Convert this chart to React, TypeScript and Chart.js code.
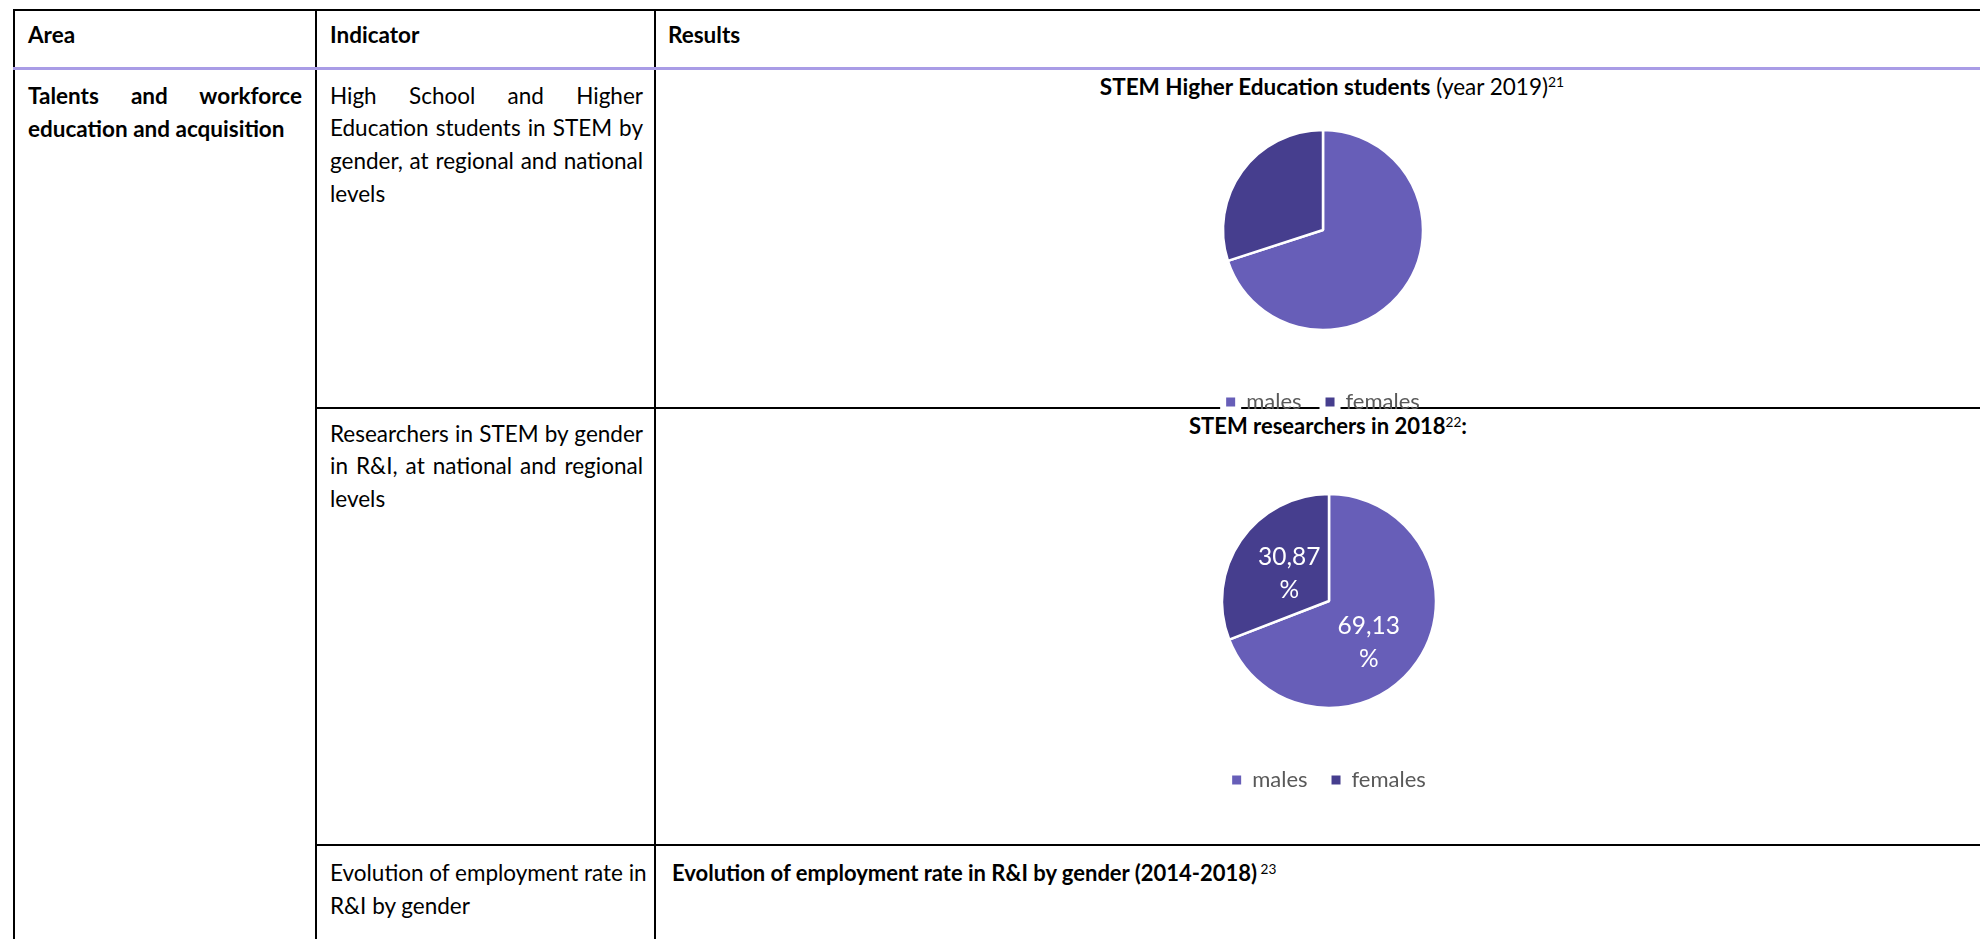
import React, { useEffect, useRef } from "react";
import { Chart, registerables } from "chart.js";

Chart.register(...registerables);

// ---------- data ----------
const GENDER_LABELS = ["males", "females"];
const STUDENTS_2019 = [70, 30];
const RESEARCHERS_2018 = [69.13, 30.87];
const SLICE_COLORS = ["#675EB8", "#463E8E"];
const LABEL_RADII = [0.54, 0.45];
const LABEL_ANGLE_SHIFT_DEG = [12, 0];

const FONT = "Lato, 'Open Sans', sans-serif";
const LEGEND_FONT_SIZE = 22;
const LEGEND_BOX = 9;

const sliceLabels = {
  id: "sliceLabels",
  afterDatasetsDraw(chart: any, _args: any, opts: any) {
    if (!opts || !opts.show) return;
    const meta = chart.getDatasetMeta(0);
    const data = chart.data.datasets[0].data as number[];
    const ctx = chart.ctx as CanvasRenderingContext2D;
    ctx.save();
    ctx.fillStyle = "#ffffff";
    ctx.font = `24.5px ${FONT}`;
    ctx.textAlign = "center";
    ctx.textBaseline = "middle";
    meta.data.forEach((arc: any, i: number) => {
      const p = arc.getProps(["x", "y", "startAngle", "endAngle", "outerRadius"], true);
      const mid = (p.startAngle + p.endAngle) / 2 + (LABEL_ANGLE_SHIFT_DEG[i] * Math.PI) / 180;
      const r = p.outerRadius * LABEL_RADII[i];
      const cx = p.x + Math.cos(mid) * r;
      const cy = p.y + Math.sin(mid) * r;
      const txt = data[i].toFixed(2).replace(".", ",");
      ctx.fillText(txt, cx, cy - 16.5);
      ctx.fillText("%", cx, cy + 16.5);
    });
    ctx.restore();
  },
};

// white halo around legend squares (knocks out the table rule under the first chart's legend)
const legendHalo = {
  id: "legendHalo",
  afterDraw(chart: any, _args: any, opts: any) {
    if (!opts || !opts.show || !chart.legend) return;
    const ctx = chart.ctx as CanvasRenderingContext2D;
    ctx.save();
    (chart.legend.legendHitBoxes || []).forEach((hb: any, i: number) => {
      const bx = hb.left;
      const by = hb.top + (LEGEND_FONT_SIZE - LEGEND_BOX) / 2;
      ctx.fillStyle = "#ffffff";
      ctx.fillRect(bx - 6, by - 4, LEGEND_BOX + 12, LEGEND_BOX + 10);
      ctx.fillStyle = SLICE_COLORS[i];
      ctx.fillRect(bx, by, LEGEND_BOX, LEGEND_BOX);
    });
    ctx.restore();
  },
};

function PieChart(props: {
  values: number[];
  radius: number;
  showLabels: boolean;
  halo: boolean;
  style: React.CSSProperties;
  width: number;
  height: number;
}) {
  const ref = useRef<HTMLCanvasElement | null>(null);
  useEffect(() => {
    if (!ref.current) return;
    const chart = new Chart(ref.current, {
      type: "pie",
      data: {
        labels: GENDER_LABELS,
        datasets: [
          {
            data: props.values,
            backgroundColor: SLICE_COLORS,
            borderColor: "#ffffff",
            borderWidth: 2.5,
            radius: props.radius,
          } as any,
        ],
      },
      options: {
        animation: false,
        responsive: false,
        devicePixelRatio: 1,
        events: [],
        layout: { padding: 0 },
        plugins: {
          tooltip: { enabled: false },
          title: { display: false },
          legend: {
            display: true,
            position: "bottom",
            labels: {
              boxWidth: LEGEND_BOX,
              boxHeight: LEGEND_BOX,
              padding: 24,
              color: "#595959",
              font: { family: FONT, size: LEGEND_FONT_SIZE },
              generateLabels: (c: any) =>
                (c.data.labels as string[]).map((text, i) => ({
                  text,
                  fillStyle: SLICE_COLORS[i],
                  strokeStyle: SLICE_COLORS[i],
                  lineWidth: 0,
                  hidden: false,
                  index: i,
                  fontColor: "#595959",
                })),
            },
          },
          sliceLabels: { show: props.showLabels },
          legendHalo: { show: props.halo },
        } as any,
      },
      plugins: [sliceLabels, legendHalo],
    });
    return () => chart.destroy();
  }, []);
  return (
    <canvas
      ref={ref}
      width={props.width}
      height={props.height}
      style={{ position: "absolute", width: props.width, height: props.height, ...props.style }}
    />
  );
}

const txt: React.CSSProperties = {
  position: "absolute",
  fontFamily: FONT,
  fontSize: 22.5,
  lineHeight: "33px",
  color: "#000",
  whiteSpace: "nowrap",
};

function JLine(props: { text: string; left: number; top: number; width: number; bold?: boolean; last?: boolean }) {
  return (
    <div
      style={{
        ...txt,
        left: props.left,
        top: props.top,
        width: props.width,
        fontWeight: props.bold ? 700 : 400,
        textAlign: props.last ? "left" : "justify",
        textAlignLast: props.last ? "left" : "justify",
        whiteSpace: "nowrap",
      }}
    >
      {props.text}
    </div>
  );
}

const line = (l: number, t: number, w: number, h: number, color = "#000"): React.CSSProperties => ({
  position: "absolute",
  left: l,
  top: t,
  width: w,
  height: h,
  background: color,
});

export default function App() {
  const col1 = ["Talents and workforce", "education and acquisition"];
  const ind1 = ["High School and Higher", "Education students in STEM by", "gender, at regional and national", "levels"];
  const ind2 = ["Researchers in STEM by gender", "in R&I, at national and regional", "levels"];
  const ind3 = ["Evolution of employment rate in", "R&I by gender"];
  return (
    <div style={{ position: "absolute", left: 0, top: 0, width: 1980, height: 939, overflow: "hidden", background: "#fff" }}>
      {/* borders */}
      <div style={line(13, 9, 1967, 2)} />
      <div style={line(13, 9, 2, 930)} />
      <div style={line(315, 9, 2, 930)} />
      <div style={line(654, 9, 2, 930)} />
      <div style={line(13, 67, 1967, 3, "#A99CE6")} />
      <div style={line(315, 407, 1665, 2)} />
      <div style={line(315, 844, 1665, 2)} />

      {/* header */}
      <div style={{ ...txt, left: 28, top: 17.5, fontWeight: 700 }}>Area</div>
      <div style={{ ...txt, left: 330, top: 17.5, fontWeight: 700 }}>Indicator</div>
      <div style={{ ...txt, left: 668, top: 17.5, fontWeight: 700 }}>Results</div>

      {/* column 1 */}
      {col1.map((t, i) => (
        <JLine key={"a" + i} text={t} left={28} top={78.5 + 33 * i} width={274} bold last={i === col1.length - 1} />
      ))}
      {ind1.map((t, i) => (
        <JLine key={"b" + i} text={t} left={330} top={78.5 + 32.7 * i} width={313} last={i === ind1.length - 1} />
      ))}
      {ind2.map((t, i) => (
        <JLine key={"c" + i} text={t} left={330} top={416.5 + 32.7 * i} width={313} last={i === ind2.length - 1} />
      ))}
      {ind3.map((t, i) => (
        <JLine key={"d" + i} text={t} left={330} top={856 + 33 * i} width={313} last={i === ind3.length - 1} />
      ))}

      {/* chart titles */}
      <div style={{ ...txt, left: 832, width: 1000, top: 70, textAlign: "center", fontSize: 22.5 }}>
        <b>STEM Higher Education students</b> (year 2019)
        <sup style={{ fontSize: "0.62em", verticalAlign: "0.55em", lineHeight: 0 }}>21</sup>
      </div>
      <div style={{ ...txt, left: 828, width: 1000, top: 408.5, textAlign: "center", fontSize: 22, fontWeight: 700 }}>
        STEM researchers in 2018
        <sup style={{ fontSize: "0.62em", fontWeight: 400, verticalAlign: "0.55em", lineHeight: 0 }}>22</sup>:
      </div>
      <div style={{ ...txt, left: 672, top: 856, fontSize: 22, fontWeight: 700 }}>
        Evolution of employment rate in R&amp;I by gender (2014-2018)
        <sup style={{ fontSize: "0.62em", fontWeight: 400, verticalAlign: "0.55em", lineHeight: 0 }}> 23</sup>
      </div>

      {/* charts */}
      <PieChart values={STUDENTS_2019} radius={100} showLabels={false} halo={true} width={400} height={330} style={{ left: 1123, top: 93 }} />
      <PieChart values={RESEARCHERS_2018} radius={107} showLabels={true} halo={false} width={400} height={344} style={{ left: 1129, top: 457 }} />
    </div>
  );
}
